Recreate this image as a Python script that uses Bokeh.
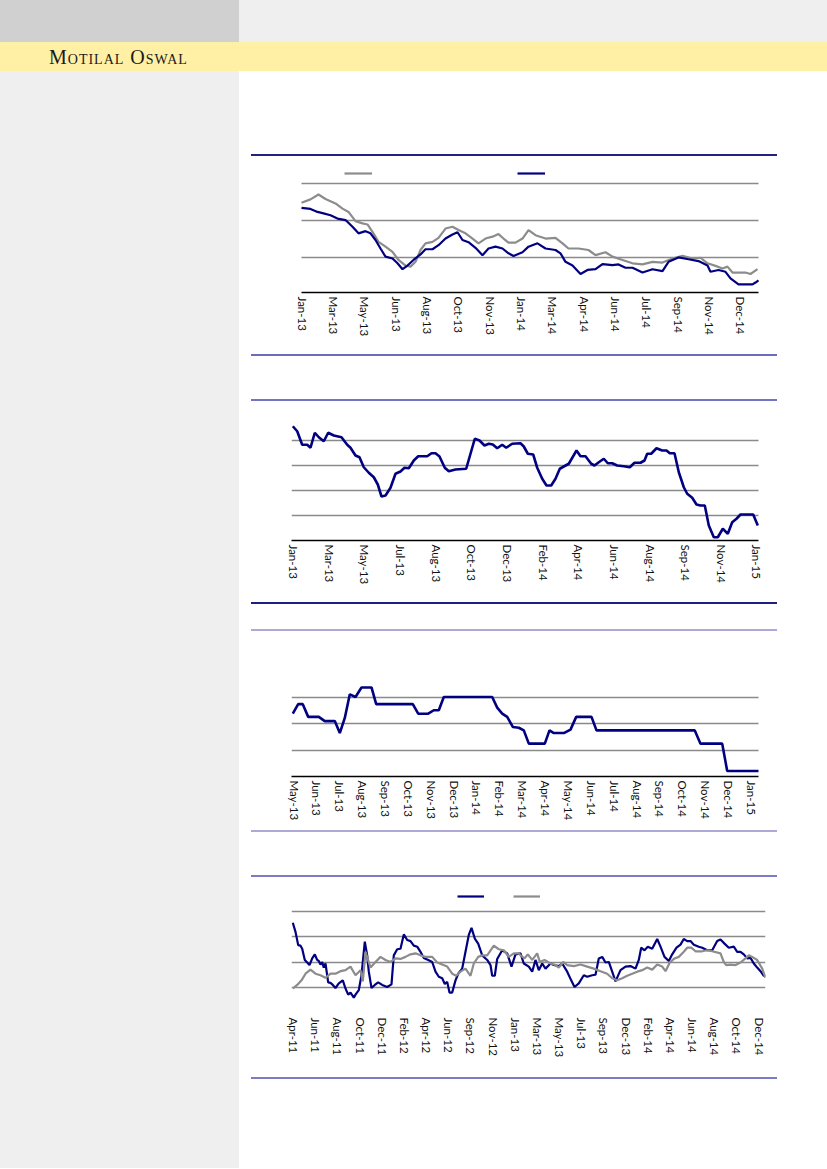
from bokeh.plotting import figure
from bokeh.models import Range1d, FixedTicker, Legend, LegendItem, Div
from bokeh.layouts import column, row
from bokeh.embed import file_html
from bokeh.resources import INLINE

NAVY = "#000080"
GRAY = "#8c8c8c"
GRID = "#8a8a8a"

# ---------------- Chart 1 (two series, daily) ----------------
c1_labels = ["Jan-13", "Mar-13", "May-13", "Jun-13", "Aug-13", "Oct-13", "Nov-13", "Jan-14",
             "Mar-14", "Apr-14", "Jun-14", "Jul-14", "Sep-14", "Nov-14", "Dec-14"]
c1_gray_x = [0, 9, 17, 24, 34, 41, 47, 54, 61, 66, 71, 77, 84, 91, 97, 104, 109, 114, 119, 124,
             131, 137, 144, 151, 157, 164, 171, 177, 184, 191, 197, 202, 207, 214, 221, 227,
             234, 244, 254, 261, 267, 277, 287, 294, 304, 311, 321, 331, 341, 351, 361, 371,
             381, 391, 399, 406, 414, 421, 426, 431, 437, 444, 449, 456]
c1_gray = [74.8, 75.7, 77.0, 75.8, 74.6, 73.2, 72.3, 69.8, 69.2, 68.9, 66.9, 64.2, 62.9, 61.5,
           59.3, 57.8, 57.5, 58.8, 62.0, 63.8, 64.2, 65.3, 67.8, 68.3, 67.4, 66.5, 65.1, 63.8,
           65.1, 65.6, 66.3, 65.1, 64.0, 64.0, 65.1, 67.4, 66.0, 65.1, 65.3, 63.8, 62.4, 62.4,
           62.0, 60.6, 61.4, 60.2, 59.3, 58.4, 58.1, 58.8, 58.6, 59.7, 60.4, 59.7, 59.9, 58.4,
           57.7, 57.0, 57.5, 55.9, 55.9, 55.9, 55.5, 56.8]
c1_navy_x = [0, 9, 16, 22, 29, 36, 44, 51, 57, 64, 69, 74, 79, 84, 91, 96, 101, 106, 112, 119,
             124, 131, 137, 144, 151, 156, 161, 167, 174, 181, 187, 194, 201, 207, 212, 221,
             227, 236, 244, 254, 259, 264, 271, 279, 286, 294, 301, 311, 317, 324, 331, 341,
             351, 361, 367, 377, 387, 397, 406, 409, 417, 424, 429, 437, 444, 451, 454, 457]
c1_navy = [73.4, 73.1, 72.3, 71.9, 71.4, 70.5, 70.1, 68.3, 66.5, 67.1, 66.5, 64.7, 62.4, 60.2,
           59.7, 58.4, 56.8, 57.8, 59.3, 60.8, 62.2, 62.2, 63.3, 65.1, 66.2, 66.8, 64.7, 64.1,
           62.6, 60.6, 62.4, 62.9, 62.4, 61.1, 60.4, 61.4, 62.9, 63.8, 62.4, 62.0, 61.1, 58.8,
           57.8, 55.5, 56.6, 56.8, 58.2, 57.9, 58.1, 57.2, 57.2, 55.9, 56.8, 56.3, 58.8, 60.0,
           59.5, 59.0, 57.8, 56.1, 56.6, 56.1, 54.3, 52.7, 52.7, 52.7, 53.2, 53.8]

# ---------------- Chart 2 (single series, weekly) ----------------
c2_labels = ["Jan-13", "Mar-13", "May-13", "Jul-13", "Aug-13", "Oct-13", "Dec-13", "Feb-14",
             "Apr-14", "Jun-14", "Aug-14", "Sep-14", "Nov-14", "Jan-15"]
c2_x = [1.3, 5.7, 10.7, 15.7, 19.0, 23.3, 27.3, 32.3, 36.7, 42.3, 50.0, 55.7, 59.0, 64.0, 68.0,
        72.3, 77.3, 82.3, 86.3, 90.0, 94.0, 99.0, 104.0, 109.0, 113.0, 117.3, 122.3, 126.7,
        135.7, 140.0, 144.0, 148.0, 153.3, 157.3, 164.0, 174.7, 183.3, 188.0, 193.0, 197.3,
        201.3, 205.7, 210.7, 214.7, 220.7, 229.0, 232.3, 236.3, 241.7, 245.7, 250.7, 255.0,
        259.7, 264.0, 268.3, 272.3, 277.3, 285.0, 289.0, 294.0, 299.7, 303.0, 307.3, 312.3,
        316.3, 320.7, 325.7, 332.3, 338.3, 343.0, 349.0, 353.0, 355.7, 359.7, 365.0, 370.7,
        375.0, 378.3, 383.0, 387.3, 392.3, 395.7, 400.7, 405.0, 409.0, 413.3, 417.3, 422.3,
        426.3, 431.3, 436.3, 440.7, 445.0, 449.0, 461.7, 466.3]
c2_v = [45.7, 43.7, 38.3, 38.3, 37.1, 43.1, 41.3, 39.7, 43.1, 42.0, 41.3, 38.3, 37.1, 34.0, 33.3,
        29.3, 27.1, 25.3, 22.4, 17.6, 18.0, 21.1, 26.7, 27.6, 29.1, 28.9, 32.0, 33.7, 33.7, 34.9,
        34.9, 33.6, 29.1, 27.7, 28.4, 28.7, 40.7, 40.0, 38.0, 38.7, 38.4, 36.9, 38.3, 37.1, 38.7,
        38.9, 37.6, 34.7, 34.4, 29.1, 24.7, 22.0, 22.0, 24.7, 28.7, 29.6, 30.7, 36.0, 33.7, 33.7,
        30.7, 30.0, 31.3, 32.7, 30.9, 30.9, 30.0, 29.7, 29.3, 31.1, 31.1, 32.0, 34.7, 34.7, 36.9,
        36.0, 36.0, 34.9, 34.9, 27.3, 21.3, 18.7, 17.1, 14.4, 14.0, 14.0, 6.0, 1.3, 1.3, 4.7,
        2.7, 7.3, 8.7, 10.4, 10.4, 6.0]

# ---------------- Chart 3 (stepped series) ----------------
c3_labels = ["May-13", "Jun-13", "Jul-13", "Aug-13", "Sep-13", "Oct-13", "Nov-13", "Dec-13",
             "Jan-14", "Feb-14", "Mar-14", "Apr-14", "May-14", "Jun-14", "Jul-14", "Aug-14",
             "Sep-14", "Oct-14", "Nov-14", "Dec-14", "Jan-15"]
c3_x = [1.3, 6.7, 11.3, 16.7, 27.3, 33.3, 43.3, 48.3, 53.3, 58.3, 64, 70, 80, 84.7, 121.3,
        126.7, 136.7, 142.3, 147.3, 152.3, 200.7, 205.7, 210.7, 215.7, 221.3, 227.3, 232.3,
        237.3, 253.3, 258, 262.3, 272.3, 279, 284.7, 300, 305, 403.3, 409, 430.7, 435.7, 467]
c3_v = [2.37, 2.73, 2.73, 2.25, 2.25, 2.09, 2.09, 1.64, 2.21, 3.10, 3.00, 3.36, 3.36, 2.73,
        2.73, 2.37, 2.37, 2.50, 2.50, 3.00, 3.00, 2.60, 2.37, 2.25, 1.87, 1.84, 1.74, 1.24,
        1.24, 1.74, 1.64, 1.64, 1.77, 2.25, 2.25, 1.74, 1.74, 1.24, 1.24, 0.21, 0.21]

# ---------------- Chart 4 (two series) ----------------
c4_labels = ["Apr-11", "Jun-11", "Aug-11", "Oct-11", "Dec-11", "Feb-12", "Apr-12", "Jun-12",
             "Sep-12", "Nov-12", "Jan-13", "Mar-13", "May-13", "Jul-13", "Sep-13", "Dec-13",
             "Feb-14", "Apr-14", "Jun-14", "Aug-14", "Oct-14", "Dec-14"]
c4_navy_x = [1.3, 4, 6.7, 9, 10.7, 13.3, 15.7, 18, 20.7, 23.3, 25.7, 27.3, 29, 30.7, 32.3, 34,
             36.7, 39, 41.3, 44, 47.3, 51.3, 54, 56.7, 59, 62.3, 64, 67.3, 70, 73.3, 75.7, 77.3,
             80, 83.3, 86.7, 90.7, 95.7, 100, 102.3, 105.7, 109, 112.3, 115.7, 119, 122.3,
             125.7, 129, 132.3, 136.7, 140.7, 144, 147.3, 150.7, 153.3, 155.7, 158, 160.7, 164,
             166.7, 170.7, 174, 177.3, 180, 183.3, 186.7, 190.7, 195.7, 199, 200.7, 203.3,
             205.7, 210.7, 215.7, 220, 224, 229,
             232.3, 237.3, 240.7, 244, 247.3, 250.7, 254, 259, 262.3, 267.3, 270.7, 275.7,
             279.7, 283, 287.3, 292.3, 295.7, 300.7, 304, 307.3, 310.7, 314, 317.3, 320.7, 324,
             329, 334, 339, 344, 347.3, 349.7, 353, 356.3, 360.7, 365.7, 369, 373, 377.3, 380.7,
             385, 389, 392.3, 395.7, 399, 402.3, 407.3, 410.7, 415.7, 420.7, 425.7, 429, 433,
             437.3, 442.3, 445.7, 449, 452.3, 455.7, 459, 462.3, 465.7, 469, 472.3, 474]
c4_navy = [7.8, 6.0, 3.4, 3.3, 2.7, 0.5, 0, -0.5, 0.8, 1.6, 0.5, 0.3, -0.4, 0.1, -1.0, -0.2,
           -3.9, -4.0, -4.4, -5.0, -4.1, -3.5, -5.1, -6.3, -5.9, -6.9, -6.3, -5.4, -2.5, 4.1,
           1.4, -1.8, -5.0, -4.4, -3.9, -4.4, -4.8, -4.3, 1.4, 2.6, 2.7, 5.5, 4.4, 4.2, 3.3,
           3.1, 2.1, 0.9, 0.5, 0.1, -1.8, -2.8, -3.1, -4.2, -3.8, -5.9, -5.9, -3.5, -2.2, -1.2,
           2.1, 5.4, 6.8, 4.7, 3.7, 1.4, 0.5, -0.5, -2.6, -2.6, 0.7, 2.4, 1.8, -0.8, 1.6, 1.8,
           -0.2, -0.8, -1.8, 0.5, -1.5, -0.2, -1.2, -0.2, -0.5, -0.7, -0.2, -1.8, -3.5, -4.8,
           -4.1, -2.5, -2.8, -2.5, -2.4, 0.8, 1.1, 0, 0.1, -1.8, -3.7, -1.5, -0.8, -0.7, -1.2,
           0.5, 2.9, 2.4, 3.1, 2.7, 4.6, 3.1, 1.1, 0.3, 1.6, 2.9, 3.5, 4.6, 4.2, 4.2, 3.5, 3.1,
           2.9, 2.4, 2.4, 4.2, 4.5, 3.7, 2.9, 3.1, 2.1, 2.1, 1.6, 0.8, 0.9, -0.2, -1.0, -1.7,
           -2.6, -2.6]
c4_gray_x = [1.3, 5.7, 10, 14, 19, 24, 29, 34, 39, 44, 49, 54, 59, 64, 69, 71.3, 74, 79, 84, 89,
             94, 99, 104, 109, 114, 119, 124, 129, 134, 140.7, 145.7, 150.7, 155.7, 160.7,
             164.7, 169, 174, 179, 182.3, 186.7, 190.7, 195.7, 202.3, 207.3, 212.3, 217.3,
             222.3, 227.3,
             229, 233, 236.3, 240.7, 245.7, 248.3, 253, 259, 264, 267.3, 271.7, 275.7, 282.3,
             289, 295.7, 302.3, 309, 315.7, 320.7, 325.7, 330.7, 335.7, 340.7, 345.7, 350.7,
             355.7, 360.7, 365.7, 370.7, 374, 378.3, 383, 387.3, 392.3, 395.7, 399.7, 404,
             410.7, 415.7, 420.7, 429, 432.3, 434.7, 439, 444, 449, 454, 457.3, 460.7, 465.7,
             470.7, 474]
c4_gray = [-5.1, -4.4, -3.5, -2.2, -1.4, -2.2, -2.5, -3.0, -2.2, -2.2, -1.7, -1.5, -0.8, -2.5,
           -1.5, -3.7, 2.1, -1.0, 0.1, 1.1, 0.5, 0.1, 0.8, 0.7, 1.1, 1.6, 1.8, 1.4, 1.1, 1.1,
           0, -0.4, -0.8, -2.2, -2.6, -1.8, -1.2, -2.6, -0.2, 1.1, 1.4, 1.4, 3.3, 2.6, 2.4, 1.1,
           1.8, 1.8,
           1.4, 0.8, 1.6, 0.5, 1.8, 0.1, 0.5, -0.2, -0.5, -1.0, 0.1, -0.5, -0.7, -0.4, -0.8,
           -1.2, -1.7, -2.2, -3.1, -3.5, -3.1, -2.6, -2.2, -1.8, -1.5, -1.0, -1.4, -0.4, -0.8,
           -1.7, 0, 0.8, 1.1, 2.1, 2.9, 2.9, 2.2, 2.2, 2.4, 2.2, 1.8, 0.1, -0.5, -0.4, -0.5, 0,
           0.8, 1.4, 1.1, 0.5, -1.2, -3.0]

LABEL_FONT = "Lato"
MAIN_W = 588
B_LEFT = 52     # all frames share the same borders (column aligns them)
B_RIGHT = 62    # frame spans page x 291..765 (474 px)


def make_chart(height, x_start, x_end, data_end, y_start, y_end, yticks, tick_start, tick_step,
               labels, b_top, b_bottom, axis_color):
    p = figure(width=MAIN_W, height=height, x_range=Range1d(x_start, x_end),
               y_range=Range1d(y_start, y_end), output_backend="svg", toolbar_location=None,
               min_border_top=b_top, min_border_bottom=b_bottom,
               min_border_left=B_LEFT, min_border_right=B_RIGHT)
    p.outline_line_color = None
    p.background_fill_color = "white"
    p.border_fill_color = "white"
    p.xgrid.visible = False
    p.yaxis.ticker = FixedTicker(ticks=yticks)
    p.yaxis.visible = False
    p.ygrid.grid_line_color = GRID
    p.ygrid.grid_line_width = 1.3
    p.ygrid.cross_bounds = (0, data_end)
    ticks = [round(tick_start + i * tick_step, 2) for i in range(len(labels))]
    p.xaxis.ticker = FixedTicker(ticks=ticks)
    p.xaxis.bounds = (0, data_end)
    p.xaxis.major_label_overrides = {t: lab for t, lab in zip(ticks, labels)}
    p.xaxis.major_label_orientation = "vertical"
    p.xaxis.major_tick_line_color = None
    p.xaxis.minor_tick_line_color = None
    p.xaxis.major_tick_out = 0
    p.xaxis.major_tick_in = 0
    p.xaxis.major_label_standoff = 4
    p.xaxis.major_label_text_font = LABEL_FONT
    p.xaxis.major_label_text_font_size = "11.5px"
    p.xaxis.major_label_text_color = "#111111"
    if axis_color is None:
        p.xaxis.axis_line_color = None
    else:
        p.xaxis.axis_line_color = axis_color
        p.xaxis.axis_line_width = 1.6
    return p


def add_legend(p, renderers, vx, vy, glyph_w, label_w):
    items = [LegendItem(label=" ", renderers=[r]) for r in renderers]
    leg = Legend(items=items, location=(vx, vy), orientation="horizontal", padding=0, margin=0,
                 spacing=0, glyph_width=glyph_w, glyph_height=10, label_width=label_w,
                 label_height=10, label_standoff=0, label_text_font_size="6px",
                 border_line_color=None, background_fill_alpha=0)
    p.add_layout(leg)


# Chart 1: figure spans page y 156..354, frame 163..292; data x 301..758
p1 = make_chart(198, -10, 464, 457, 50.5, 85.4, [60, 70, 80], 0.5, 31.35, c1_labels, 7, 62, "black")
r1g = p1.line(c1_gray_x, c1_gray, line_color=GRAY, line_width=2.2)
r1n = p1.line(c1_navy_x, c1_navy, line_color=NAVY, line_width=2.2)
add_legend(p1, [r1g, r1n], 53, 114, 28, 145)

# Chart 2: figure 401..602, frame 415..540, data x 291..758
p2 = make_chart(201, 0, 474, 467, 0, 50, [10, 20, 30, 40, 50], 2, 35.65, c2_labels, 14, 62, "black")
p2.line(c2_x, c2_v, line_color=NAVY, line_width=2.6)

# Chart 3: figure 631..830, frame 670..776
p3 = make_chart(199, 0, 474, 467, 0, 4, [1, 2, 3, 4], 2.5, 22.87, c3_labels, 39, 54, "black")
p3.line(c3_x, c3_v, line_color=NAVY, line_width=2.6)

# Chart 4: figure 877..1077, frame 886..1013, data x 291..765
p4 = make_chart(200, 0, 474, 474, -10, 14.9, [-10, -5, 0, 5, 10], 2, 22.17, c4_labels, 9, 64, None)
r4n = p4.line(c4_navy_x, c4_navy, line_color=NAVY, line_width=2.2)
r4g = p4.line(c4_gray_x, c4_gray, line_color=GRAY, line_width=2.2)
add_legend(p4, [r4n, r4g], 166, 112, 27, 29)


def block(w, h, color=None, left=0):
    styles = {"background-color": color} if color else {}
    return Div(text="", width=w, height=h, margin=(0, 0, 0, left), styles=styles)


def sep(color):
    return block(526, 2, color, left=12)


main_col = column(
    block(MAIN_W, 83),
    sep("#23237f"), p1, sep("#6b6bbf"),
    block(MAIN_W, 43),
    sep("#7474c2"), p2, sep("#1f1f80"),
    block(MAIN_W, 25),
    sep("#aeaad8"), p3, sep("#aeaad8"),
    block(MAIN_W, 43),
    sep("#7c7cc6"), p4, sep("#7c7cc6"),
    block(MAIN_W, 89),
    spacing=0,
)

banner = Div(
    text='<div style="font-family: \'Liberation Serif\', serif; font-size: 20px; '
         'font-variant: small-caps; letter-spacing: 1px; color: #1a1a1a; line-height: 31px; '
         'padding-left: 49px; white-space: nowrap;">Motilal Oswal</div>',
    width=827, height=29, margin=0, styles={"background-color": "#fff0a5"})

header = row(block(239, 42, "#d0d0d0"), block(MAIN_W, 42, "#efefef"), spacing=0)
body = row(block(239, 1097, "#efefef"), main_col, spacing=0)
root = column(header, banner, body, spacing=0)

open("out.html", "w").write(file_html(root, INLINE))
